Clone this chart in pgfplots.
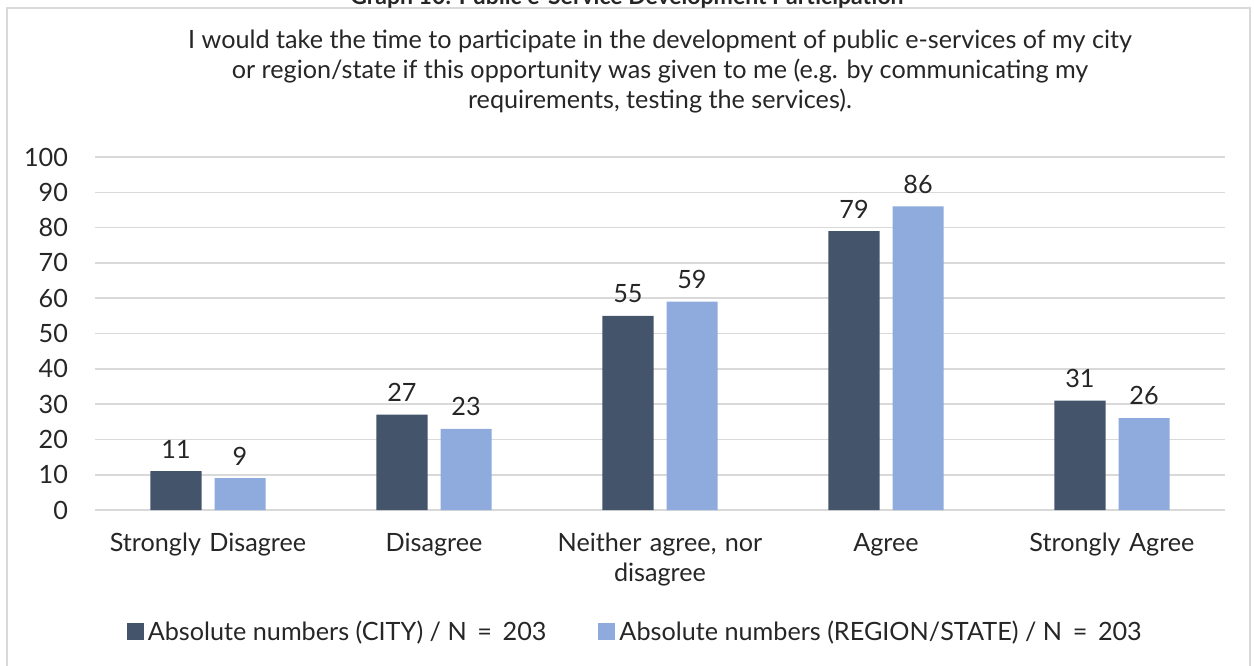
\documentclass[border=0pt]{standalone}
\usepackage{fontspec}
\setmainfont{Lato}
\usepackage{pgfplots}
\pgfplotsset{compat=1.18}
\definecolor{cityblue}{RGB}{68,84,106}
\definecolor{regionblue}{RGB}{143,170,220}
\definecolor{gridgray}{RGB}{217,217,217}
\definecolor{textgray}{RGB}{38,38,38}
\newcommand{\lbl}{\fontsize{12.6}{15}\selectfont}
\begin{document}
\begin{tikzpicture}
% outer frame, partly outside the page like in the source
\draw[gridgray, line width=0.8pt] (3.5pt,-4pt) rectangle (625pt,-400pt);
\node[font=\bfseries\fontsize{11.5}{14}\selectfont, anchor=base, text=textgray] at (313.5pt,-2pt)
  {Graph 10: Public e-Service Development Participation};
\node[font=\lbl, align=center, anchor=north, inner sep=0pt, text=textgray] at (330pt,-15pt)
  {I would take the time to participate in the development of public e-services of my city\\
   or region/state if this opportunity was given to me (e.g. by communicating my\\
   requirements, testing the services).};
\begin{axis}[
  at={(47.5pt,-255pt)}, anchor=south west,
  width=565pt, height=176.5pt, scale only axis,
  xmin=-0.5, xmax=4.5, ymin=0, ymax=100,
  ybar=6.5pt, bar width=25.5pt,
  ytick={0,10,...,100},
  xtick={0,1,2,3,4},
  xticklabels={Strongly Disagree, Disagree, {Neither agree, nor\\disagree}, Agree, Strongly Agree},
  ymajorgrids, grid style={gridgray, line width=0.8pt},
  axis line style={draw=none}, major tick length=0pt,
  tick label style={font=\lbl, text=textgray},
  /pgf/number format/assume math mode=true,
  xticklabel style={text width=112pt, align=center, yshift=-8pt},
  yticklabel style={xshift=-10pt},
  nodes near coords,
  nodes near coords style={font=\lbl, text=textgray, yshift=3pt},
  legend style={at={(0.479,-0.3456)}, anchor=center, draw=none, fill=none,
    legend columns=2, font=\lbl, text=textgray,
    /tikz/every even column/.append style={column sep=24pt}},
  legend image code/.code={\fill[#1] (0pt,-4.2pt) rectangle (8.5pt,4.3pt);},
]
\addplot[fill=cityblue, draw=none] coordinates {(0,11) (1,27) (2,55) (3,79) (4,31)};
\addlegendentry{Absolute numbers (CITY) / N \,=\, 203}
\addplot[fill=regionblue, draw=none] coordinates {(0,9) (1,23) (2,59) (3,86) (4,26)};
\addlegendentry{Absolute numbers (REGION/STATE) / N \,=\, 203}
\end{axis}
\pgfresetboundingbox
\path[use as bounding box] (0pt,0pt) rectangle (627pt,-332.5pt);
\end{tikzpicture}
\end{document}
